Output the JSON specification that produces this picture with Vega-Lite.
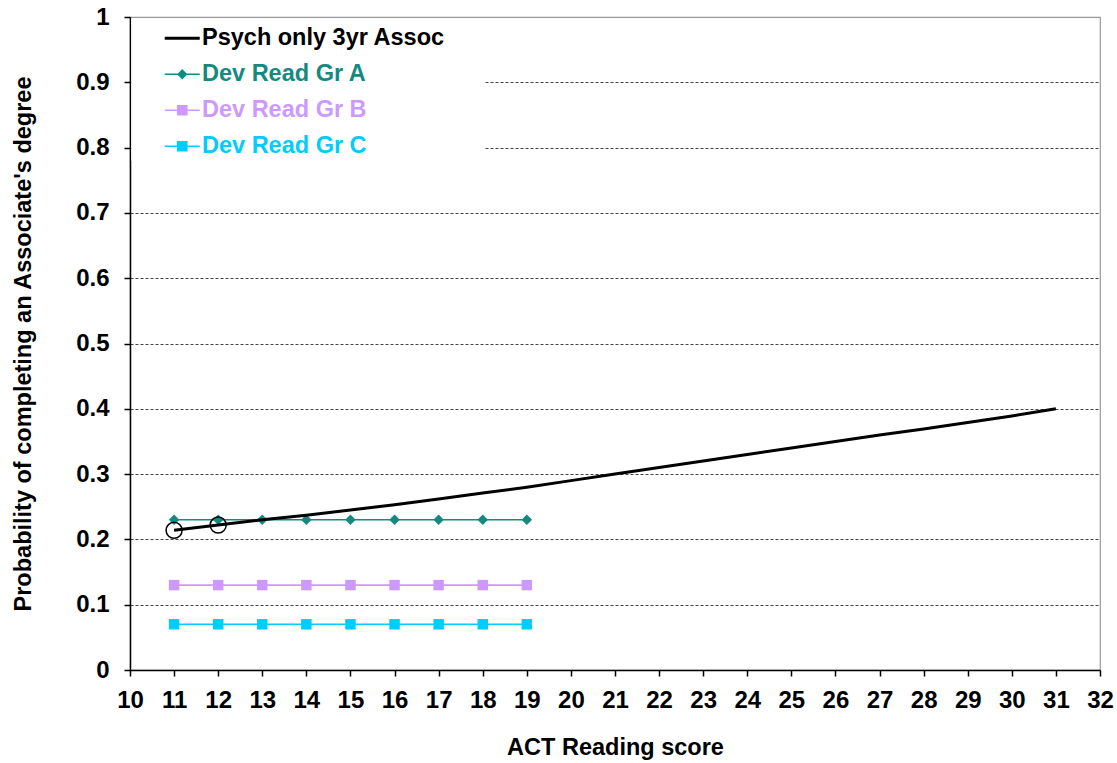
{
  "$schema": "https://vega.github.io/schema/vega-lite/v6.json",
  "width": 970,
  "height": 653,
  "autosize": {"type": "none"},
  "padding": {"left": 130, "top": 17, "right": 17, "bottom": 93},
  "background": "white",
  "config": {
    "font": "Liberation Sans",
    "view": {"stroke": "#9a9a9a", "strokeWidth": 1.2}
  },
  "datasets": {
    "series": [
      {"series": "Psych only 3yr Assoc", "score": 11, "prob": 0.214},
      {"series": "Psych only 3yr Assoc", "score": 12, "prob": 0.222},
      {"series": "Psych only 3yr Assoc", "score": 13, "prob": 0.230},
      {"series": "Psych only 3yr Assoc", "score": 14, "prob": 0.237},
      {"series": "Psych only 3yr Assoc", "score": 15, "prob": 0.245},
      {"series": "Psych only 3yr Assoc", "score": 16, "prob": 0.253},
      {"series": "Psych only 3yr Assoc", "score": 17, "prob": 0.262},
      {"series": "Psych only 3yr Assoc", "score": 18, "prob": 0.271},
      {"series": "Psych only 3yr Assoc", "score": 19, "prob": 0.280},
      {"series": "Psych only 3yr Assoc", "score": 20, "prob": 0.290},
      {"series": "Psych only 3yr Assoc", "score": 21, "prob": 0.300},
      {"series": "Psych only 3yr Assoc", "score": 22, "prob": 0.310},
      {"series": "Psych only 3yr Assoc", "score": 23, "prob": 0.320},
      {"series": "Psych only 3yr Assoc", "score": 24, "prob": 0.330},
      {"series": "Psych only 3yr Assoc", "score": 25, "prob": 0.340},
      {"series": "Psych only 3yr Assoc", "score": 26, "prob": 0.350},
      {"series": "Psych only 3yr Assoc", "score": 27, "prob": 0.360},
      {"series": "Psych only 3yr Assoc", "score": 28, "prob": 0.369},
      {"series": "Psych only 3yr Assoc", "score": 29, "prob": 0.379},
      {"series": "Psych only 3yr Assoc", "score": 30, "prob": 0.389},
      {"series": "Psych only 3yr Assoc", "score": 31, "prob": 0.400},
      {"series": "Dev Read Gr A", "score": 11, "prob": 0.23},
      {"series": "Dev Read Gr A", "score": 12, "prob": 0.23},
      {"series": "Dev Read Gr A", "score": 13, "prob": 0.23},
      {"series": "Dev Read Gr A", "score": 14, "prob": 0.23},
      {"series": "Dev Read Gr A", "score": 15, "prob": 0.23},
      {"series": "Dev Read Gr A", "score": 16, "prob": 0.23},
      {"series": "Dev Read Gr A", "score": 17, "prob": 0.23},
      {"series": "Dev Read Gr A", "score": 18, "prob": 0.23},
      {"series": "Dev Read Gr A", "score": 19, "prob": 0.23},
      {"series": "Dev Read Gr B", "score": 11, "prob": 0.13},
      {"series": "Dev Read Gr B", "score": 12, "prob": 0.13},
      {"series": "Dev Read Gr B", "score": 13, "prob": 0.13},
      {"series": "Dev Read Gr B", "score": 14, "prob": 0.13},
      {"series": "Dev Read Gr B", "score": 15, "prob": 0.13},
      {"series": "Dev Read Gr B", "score": 16, "prob": 0.13},
      {"series": "Dev Read Gr B", "score": 17, "prob": 0.13},
      {"series": "Dev Read Gr B", "score": 18, "prob": 0.13},
      {"series": "Dev Read Gr B", "score": 19, "prob": 0.13},
      {"series": "Dev Read Gr C", "score": 11, "prob": 0.07},
      {"series": "Dev Read Gr C", "score": 12, "prob": 0.07},
      {"series": "Dev Read Gr C", "score": 13, "prob": 0.07},
      {"series": "Dev Read Gr C", "score": 14, "prob": 0.07},
      {"series": "Dev Read Gr C", "score": 15, "prob": 0.07},
      {"series": "Dev Read Gr C", "score": 16, "prob": 0.07},
      {"series": "Dev Read Gr C", "score": 17, "prob": 0.07},
      {"series": "Dev Read Gr C", "score": 18, "prob": 0.07},
      {"series": "Dev Read Gr C", "score": 19, "prob": 0.07}
    ],
    "legendBox": [
      {"x1": 10.03, "x2": 18.05, "y1": 0.78, "y2": 0.998}
    ]
  },
  "layer": [
    {
      "data": {"name": "legendBox"},
      "mark": {"type": "rect", "fill": "white", "stroke": null},
      "encoding": {
        "x": {"field": "x1", "type": "quantitative", "scale": {"domain": [10, 32], "nice": false, "zero": false},
          "axis": {
            "values": [10,11,12,13,14,15,16,17,18,19,20,21,22,23,24,25,26,27,28,29,30,31,32],
            "grid": false,
            "domainColor": "black", "domainWidth": 1.5,
            "tickColor": "black", "tickWidth": 1.5, "tickSize": 6,
            "labelFont": "Liberation Sans", "labelFontSize": 24, "labelFontWeight": "bold", "labelColor": "black",
            "labelPadding": 12, "labelFlush": false, "labelOverlap": false,
            "title": "ACT Reading score",
            "titleFont": "Liberation Sans", "titleFontSize": 23.5, "titleFontWeight": "bold", "titleColor": "black",
            "titlePadding": 23
          }
        },
        "x2": {"field": "x2"},
        "y": {"field": "y1", "type": "quantitative", "scale": {"domain": [0, 1], "nice": false},
          "axis": {
            "values": [0, 0.1, 0.2, 0.3, 0.4, 0.5, 0.6, 0.7, 0.8, 0.9, 1],
            "format": "~g",
            "grid": true,
            "gridDash": [3, 2],
            "gridColor": {"condition": {"test": "datum.value === 0 || datum.value === 1", "value": "transparent"}, "value": "#444444"},
            "gridWidth": 1,
            "domainColor": "black", "domainWidth": 1.5,
            "tickColor": "black", "tickWidth": 1.5, "tickSize": 6,
            "labelFont": "Liberation Sans", "labelFontSize": 24, "labelFontWeight": "bold", "labelColor": "black",
            "labelPadding": 15, "labelOverlap": false,
            "title": "Probability of completing an Associate's degree",
            "titleFont": "Liberation Sans", "titleFontSize": 23.5, "titleFontWeight": "bold", "titleColor": "black",
            "titlePadding": 40
          }
        },
        "y2": {"field": "y2"}
      }
    },
    {
      "data": {"name": "series"},
      "transform": [{"filter": "datum.series !== 'Psych only 3yr Assoc'"}],
      "mark": {"type": "line", "strokeWidth": 1.6},
      "encoding": {
        "x": {"field": "score", "type": "quantitative"},
        "y": {"field": "prob", "type": "quantitative"},
        "color": {
          "field": "series", "type": "nominal",
          "scale": {
            "domain": ["Psych only 3yr Assoc", "Dev Read Gr A", "Dev Read Gr B", "Dev Read Gr C"],
            "range": ["#000000", "#138a80", "#cc99ff", "#00ccff"]
          },
          "legend": {
            "title": null,
            "orient": "none",
            "legendX": 40.5,
            "legendY": 9.5,
            "padding": 0,
            "symbolSize": 1225,
            "labelFont": "Liberation Sans",
            "labelFontSize": 23.5,
            "labelFontWeight": "bold",
            "labelLimit": 500,
            "labelOffset": 8,
            "rowPadding": 11,
            "encode": {
              "symbols": {
                "update": {
                  "shape": {"signal": "datum.value === 'Psych only 3yr Assoc' ? 'M-1,0L1,0' : datum.value === 'Dev Read Gr A' ? 'M-1,0L1,0M-0.23,0L0,-0.23L0.23,0L0,0.23Z' : 'M-1,0L1,0M-0.26,-0.26L0.26,-0.26L0.26,0.26L-0.26,0.26Z'"},
                  "strokeWidth": {"signal": "datum.value === 'Psych only 3yr Assoc' ? 3 : 1.6"},
                  "fill": {"scale": "color", "field": "value"},
                  "stroke": {"scale": "color", "field": "value"},
                  "opacity": {"value": 1},
                  "fillOpacity": {"value": 1},
                  "strokeOpacity": {"value": 1}
                }
              },
              "labels": {
                "update": {
                  "fill": {"scale": "color", "field": "value"}
                }
              }
            }
          }
        }
      }
    },
    {
      "data": {"name": "series"},
      "transform": [{"filter": "datum.series !== 'Psych only 3yr Assoc'"}],
      "mark": {"type": "point", "filled": true, "opacity": 1, "size": 110},
      "encoding": {
        "x": {"field": "score", "type": "quantitative"},
        "y": {"field": "prob", "type": "quantitative"},
        "color": {"field": "series", "type": "nominal"},
        "shape": {
          "field": "series", "type": "nominal",
          "scale": {"domain": ["Dev Read Gr A", "Dev Read Gr B", "Dev Read Gr C"], "range": ["diamond", "square", "square"]},
          "legend": null
        }
      }
    },
    {
      "data": {"name": "series"},
      "transform": [{"filter": "datum.series === 'Psych only 3yr Assoc'"}],
      "mark": {"type": "line", "strokeWidth": 3},
      "encoding": {
        "x": {"field": "score", "type": "quantitative"},
        "y": {"field": "prob", "type": "quantitative"},
        "color": {"field": "series", "type": "nominal"}
      }
    },
    {
      "data": {"name": "series"},
      "transform": [{"filter": "datum.series === 'Psych only 3yr Assoc' && datum.score <= 12"}],
      "mark": {"type": "point", "filled": false, "stroke": "black", "strokeWidth": 1.5, "size": 256, "opacity": 1},
      "encoding": {
        "x": {"field": "score", "type": "quantitative"},
        "y": {"field": "prob", "type": "quantitative"}
      }
    }
  ]
}
